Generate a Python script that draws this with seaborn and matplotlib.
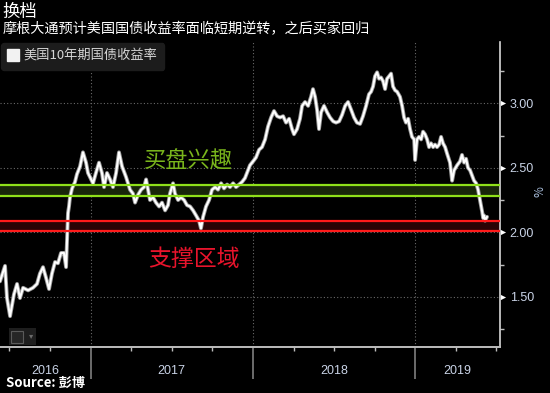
import matplotlib
matplotlib.use("Agg")
import matplotlib.pyplot as plt
import matplotlib.transforms as mtransforms
from matplotlib.lines import Line2D
from matplotlib.patches import Rectangle
import seaborn as sns
import pandas as pd

# ---------------- data ----------------
TITLE = "换档"
SUBTITLE = "摩根大通预计美国国债收益率面临短期逆转，之后买家回归"
SOURCE = "Source: 彭博"
SERIES_NAME = "美国10年期国债收益率"
BUY_LABEL = "买盘兴趣"
SUPPORT_LABEL = "支撑区域"

# decimal-year time stamps
T = [2016.442, 2016.473, 2016.485, 2016.504, 2016.528, 2016.547, 2016.565, 2016.584, 2016.615, 2016.645,
     2016.670, 2016.688, 2016.707, 2016.725, 2016.744, 2016.762, 2016.781, 2016.799, 2016.818, 2016.836,
     2016.849, 2016.861, 2016.867, 2016.873, 2016.886, 2016.904, 2016.916, 2016.935, 2016.953, 2016.972,
     2016.984, 2017.003, 2017.015, 2017.033, 2017.052, 2017.070, 2017.083, 2017.101, 2017.120, 2017.138,
     2017.157, 2017.175, 2017.194, 2017.218, 2017.243, 2017.261, 2017.274, 2017.292, 2017.311, 2017.329,
     2017.342, 2017.354, 2017.366, 2017.385, 2017.403, 2017.422, 2017.440, 2017.459, 2017.477, 2017.489,
     2017.508, 2017.520, 2017.539, 2017.557, 2017.576, 2017.594, 2017.613, 2017.631, 2017.650, 2017.668,
     2017.680, 2017.693, 2017.711, 2017.730, 2017.748, 2017.767, 2017.785, 2017.804, 2017.822, 2017.841,
     2017.859, 2017.878, 2017.896, 2017.914, 2017.933, 2017.951, 2017.970, 2017.982, 2018.001,
     2018.019, 2018.038, 2018.056, 2018.075, 2018.093, 2018.112, 2018.130, 2018.149, 2018.167, 2018.186,
     2018.204, 2018.223, 2018.241, 2018.253, 2018.272, 2018.290, 2018.303, 2018.321, 2018.340, 2018.358,
     2018.370, 2018.383, 2018.395, 2018.407, 2018.420, 2018.438, 2018.457, 2018.475, 2018.494, 2018.512,
     2018.531, 2018.549, 2018.568, 2018.586, 2018.605, 2018.623, 2018.641, 2018.660, 2018.678, 2018.697,
     2018.715,
     2018.728, 2018.740, 2018.752, 2018.765, 2018.777, 2018.789, 2018.802, 2018.814, 2018.826, 2018.839,
     2018.851, 2018.863, 2018.876, 2018.888, 2018.906, 2018.919, 2018.931, 2018.943, 2018.956, 2018.968,
     2018.980, 2018.993, 2018.999, 2019.011, 2019.023, 2019.036, 2019.048, 2019.060, 2019.073, 2019.085,
     2019.097, 2019.110, 2019.122, 2019.134, 2019.147, 2019.159, 2019.171, 2019.184,
     2019.196, 2019.214, 2019.227, 2019.239, 2019.258, 2019.276, 2019.288, 2019.301, 2019.313, 2019.325,
     2019.338, 2019.350, 2019.362, 2019.375, 2019.387, 2019.399, 2019.405, 2019.412, 2019.418, 2019.424,
     2019.430, 2019.442]

YIELD = [1.62, 1.74, 1.49, 1.35, 1.52, 1.60, 1.49, 1.57, 1.55, 1.57,
         1.60, 1.68, 1.73, 1.65, 1.56, 1.68, 1.77, 1.76, 1.84, 1.84,
         1.73, 2.15, 2.20, 2.27, 2.34, 2.39, 2.45, 2.51, 2.62, 2.54,
         2.46, 2.41, 2.38, 2.46, 2.54, 2.46, 2.35, 2.46, 2.41, 2.35,
         2.46, 2.62, 2.51, 2.43, 2.33, 2.30, 2.23, 2.29, 2.33, 2.35,
         2.41, 2.33, 2.25, 2.27, 2.23, 2.20, 2.23, 2.17, 2.21, 2.30,
         2.38, 2.30, 2.25, 2.27, 2.25, 2.21, 2.20, 2.17, 2.13, 2.09,
         2.03, 2.12, 2.20, 2.25, 2.33, 2.35, 2.33, 2.38, 2.34, 2.37,
         2.35, 2.38, 2.35, 2.37, 2.39, 2.42, 2.48, 2.52, 2.55,
         2.58, 2.64, 2.66, 2.72, 2.82, 2.89, 2.94, 2.90, 2.89, 2.90,
         2.85, 2.88, 2.80, 2.76, 2.80, 2.88, 2.98, 3.01, 2.98, 3.05,
         3.11, 3.05, 2.95, 2.80, 2.93, 2.98, 2.93, 2.89, 2.86, 2.85,
         2.86, 2.91, 2.98, 3.01, 2.95, 2.89, 2.85, 2.84, 2.90, 2.98,
         3.07,
         3.09, 3.13, 3.21, 3.24, 3.19, 3.20, 3.17, 3.11, 3.19, 3.21,
         3.23, 3.13, 3.10, 3.09, 3.05, 2.98, 2.89, 2.85, 2.88, 2.80,
         2.74, 2.72, 2.56, 2.72, 2.74, 2.72, 2.78, 2.76, 2.72, 2.66,
         2.69, 2.66, 2.68, 2.66, 2.68, 2.74, 2.69, 2.66,
         2.61, 2.54, 2.40, 2.48, 2.52, 2.55, 2.60, 2.54, 2.57, 2.50,
         2.48, 2.44, 2.40, 2.38, 2.33, 2.25, 2.21, 2.16, 2.11, 2.13,
         2.09, 2.12]

BUY_ZONE = (2.28, 2.365)
SUPPORT_ZONE = (2.01, 2.09)
YEARS = [2016, 2017, 2018, 2019]
Y_MAJOR = [1.50, 2.00, 2.50, 3.00]
Y_MINOR = [1.25, 1.75, 2.25, 2.75, 3.25]
X_RANGE = (2016.442, 2019.522)
Y_RANGE = (1.111, 3.475)
BUY_TEXT_POS = (2017.603, 2.55)
SUPPORT_TEXT_POS = (2017.637, 1.79)

assert len(T) == len(YIELD)
df = pd.DataFrame({"t": T, "yield": YIELD})

# ---------------- style ----------------
sns.set_theme(style="dark")
CJK = ["Noto Sans CJK SC", "DejaVu Sans"]
plt.rcParams["font.family"] = CJK
plt.rcParams["axes.facecolor"] = "black"
plt.rcParams["figure.facecolor"] = "black"
plt.rcParams["savefig.facecolor"] = "black"

TICK_COLOR = "#c9d3e6"
GRID_COLOR = "#6a6a6a"

fig = plt.figure(figsize=(5.5, 3.93), dpi=100)
ax = fig.add_axes([0.0, 1 - 347 / 393, 500 / 550, (347 - 42) / 393])
ax.set_facecolor("black")

# zones
g_lo, g_hi = BUY_ZONE
r_lo, r_hi = SUPPORT_ZONE
ax.axhspan(g_lo, g_hi, color="#18260a", zorder=1, lw=0)
ax.axhline(g_lo, color="#8fe01a", lw=1.6, zorder=4)
ax.axhline(g_hi, color="#8fe01a", lw=1.6, zorder=4)
ax.axhspan(r_lo, r_hi, color="#2a0305", zorder=1, lw=0)
ax.axhline(r_lo, color="#ff1a1a", lw=1.6, zorder=4)
ax.axhline(r_hi, color="#ff1a1a", lw=1.6, zorder=4)

# grid
for yv in Y_MAJOR:
    ax.axhline(yv, color=GRID_COLOR, lw=0.8, ls=(0, (1, 2)), zorder=0.5)
for yr in YEARS[1:]:
    ax.axvline(yr, color=GRID_COLOR, lw=0.8, ls=(0, (1, 2)), zorder=0.5)

# series
sns.lineplot(data=df, x="t", y="yield", color="#9a9a9a", lw=2.8, ax=ax, zorder=2, legend=False)
sns.lineplot(data=df, x="t", y="yield", color="white", lw=1.5, ax=ax, zorder=3, legend=False)

ax.set_xlim(*X_RANGE)
ax.set_ylim(*Y_RANGE)
ax.set_xlabel("")
ax.set_ylabel("")

# annotations
ax.text(*BUY_TEXT_POS, BUY_LABEL, color="#79b51c", fontsize=16, ha="center", va="center", zorder=5)
ax.text(*SUPPORT_TEXT_POS, SUPPORT_LABEL, color="#e8142c", fontsize=16.5, ha="center", va="center", zorder=5)

# spines
for s in ["left", "top"]:
    ax.spines[s].set_visible(False)
ax.spines["right"].set_color("#d8d8d8")
ax.spines["right"].set_linewidth(1.2)
ax.spines["bottom"].set_color("#bdbdbd")
ax.spines["bottom"].set_linewidth(1.4)

# y axis (right)
ax.yaxis.tick_right()
ax.set_yticks(Y_MAJOR)
ax.set_yticklabels([f"{v:.2f}" for v in Y_MAJOR], fontsize=9, color=TICK_COLOR,
                   family=["Liberation Sans", "DejaVu Sans"])
ax.set_yticks(Y_MINOR, minor=True)
ax.tick_params(axis="y", which="major", length=0, pad=7, right=True, left=False)
ax.tick_params(axis="y", which="minor", length=3, width=1, color="#bdbdbd", direction="out", right=True, left=False)
trans_y = mtransforms.blended_transform_factory(ax.transAxes, ax.transData)
ax.scatter([1.007] * len(Y_MAJOR), Y_MAJOR, marker=">", s=14, color="white",
           transform=trans_y, clip_on=False, zorder=6, lw=0)
fig.text(540 / 550, 1 - 192 / 393, "%", color="#a9bedc", fontsize=8.5, rotation=90,
         ha="center", va="center")

# x axis
quarters = [yr + q / 4 for yr in range(YEARS[0], YEARS[-1] + 1) for q in range(4)]
quarters = [q for q in quarters if X_RANGE[0] <= q <= X_RANGE[1] and q not in YEARS]
ax.set_xticks(YEARS[1:])
ax.set_xticklabels([])
ax.set_xticks(quarters, minor=True)
ax.tick_params(axis="x", which="major", length=23, width=1.1, color="#8a8a8a", direction="out", bottom=True)
ax.tick_params(axis="x", which="minor", length=3, width=1, color="#bdbdbd", direction="out", bottom=True)
trans_x = mtransforms.blended_transform_factory(ax.transData, ax.transAxes)
for yr in YEARS:
    lo = max(yr, X_RANGE[0])
    hi = min(yr + 1, X_RANGE[1])
    ax.text((lo + hi) / 2, -0.078, str(yr), transform=trans_x, ha="center", va="center",
            fontsize=9, color=TICK_COLOR, family=["Liberation Sans", "DejaVu Sans"])

# legend
handle = Line2D([], [], marker="s", color="none", markerfacecolor="#f2f2f2",
                markeredgecolor="#f2f2f2", markersize=8.5)
leg = ax.legend([handle], [SERIES_NAME], loc="upper left", bbox_to_anchor=(0.0, 1.0),
                borderaxespad=0.1, frameon=True, fancybox=True, framealpha=1,
                facecolor="#1c1c1c", edgecolor="#1c1c1c", fontsize=9.5,
                handlelength=0.8, handletextpad=0.4, borderpad=0.5)
for txt in leg.get_texts():
    txt.set_color("#d6d6d6")

# small chart-type icon bottom-left
fig.patches.append(Rectangle((9 / 550, 1 - 345 / 393), 27 / 550, 17 / 393, transform=fig.transFigure,
                             facecolor="#1e1e1e", edgecolor="none", zorder=5))
fig.patches.append(Rectangle((11 / 550, 1 - 343 / 393), 12 / 550, 12 / 393, transform=fig.transFigure,
                             facecolor="#262626", edgecolor="#5a5a5a", lw=0.8, zorder=6))
fig.text(31 / 550, 1 - 336 / 393, "▾", color="#6a6a6a", fontsize=6, ha="center", va="center",
         family=["DejaVu Sans"], zorder=7)

# titles
fig.text(0.004, 1 - 3 / 393, TITLE, color="white", fontsize=12.5, ha="left", va="top")
fig.text(0.004, 1 - 22 / 393, SUBTITLE, color="white", fontsize=10.2, ha="left", va="top")
fig.text(0.01, 1 - 383 / 393, SOURCE, color="white", fontsize=9.5, fontweight="bold",
         ha="left", va="center")

fig.savefig("out.png", dpi=100, facecolor="black")
